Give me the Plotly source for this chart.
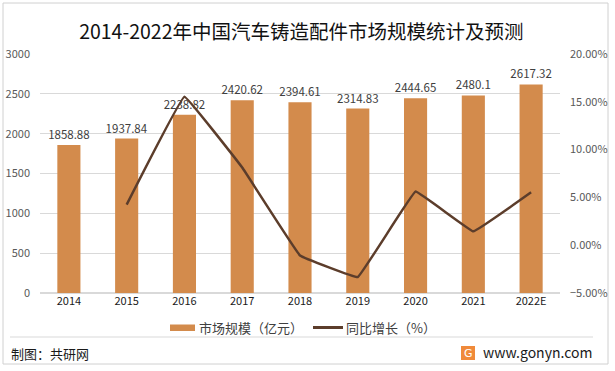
import plotly.graph_objects as go

years = ["2014", "2015", "2016", "2017", "2018", "2019", "2020", "2021", "2022E"]
market_size = [1858.88, 1937.84, 2238.82, 2420.62, 2394.61, 2314.83, 2444.65, 2480.1, 2617.32]
growth_years = ["2015", "2016", "2017", "2018", "2019", "2020", "2021", "2022E"]
growth = [0.0425, 0.1553, 0.0812, -0.0107, -0.0333, 0.0561, 0.0145, 0.0553]

bar_color = "#D38B4C"
line_color = "#5C3D2B"
cjk = "Noto Sans CJK SC"

fig = go.Figure()
fig.add_trace(go.Bar(
    x=years, y=market_size, name="市场规模（亿元）",
    marker=dict(color=bar_color, line=dict(width=0)),
    width=0.4,
    text=[f"{v:g}" for v in market_size], textposition="outside",
    constraintext="none",
    textfont=dict(size=11.5, color="#404040", family=cjk),
    cliponaxis=False, showlegend=False,
))
fig.add_trace(go.Scatter(
    x=growth_years, y=growth, name="同比增长（%）", yaxis="y2",
    mode="lines", line=dict(color=line_color, width=2.5, shape="spline", smoothing=0.15),
    showlegend=False,
))

X0, X1, Y0, Y1 = 40, 560, 54, 293
W, H = 615, 371
def px(x):
    return (x - X0) / (X1 - X0)
def py(y):
    return (Y1 - y) / (Y1 - Y0)

fig.update_layout(
    width=W, height=H,
    margin=dict(l=X0, r=W - X1, t=Y0, b=H - Y1, autoexpand=False),
    paper_bgcolor="white", plot_bgcolor="white",
    font=dict(family=cjk, color="#404040", size=11),
    title=dict(text="2014-2022年中国汽车铸造配件市场规模统计及预测",
               x=0.49, xanchor="center", y=1 - 32 / H, yanchor="middle",
               font=dict(size=19.5, color="#111111", family=cjk)),
    bargap=0.6,
    showlegend=False,
    xaxis=dict(type="category", showgrid=False, showline=False, ticks="",
               tickfont=dict(size=11, color="#1a1a1a", family=cjk),
               automargin=False),
    yaxis=dict(range=[0, 3000], dtick=500, showgrid=True, gridcolor="#D9D9D9",
               gridwidth=1, zeroline=True, zerolinecolor="#D9D9D9", showline=False,
               tickfont=dict(size=11, color="#595959", family=cjk), ticks="",
               ticklabelstandoff=9, automargin=False),
    yaxis2=dict(range=[-0.05, 0.20], dtick=0.05, tickformat=".2%", overlaying="y",
                side="right", showgrid=False, zeroline=False, showline=False,
                tickfont=dict(size=11, color="#595959", family=cjk), ticks="",
                ticklabelstandoff=9, automargin=False),
    shapes=[
        dict(type="rect", xref="paper", yref="paper", x0=px(3), x1=px(608), y0=py(3), y1=py(364),
             line=dict(color="#D0D0D0", width=1), fillcolor="rgba(0,0,0,0)", layer="below"),
        dict(type="line", xref="paper", yref="paper", x0=px(10), x1=px(593), y0=py(337), y1=py(337),
             line=dict(color="#D9D9D9", width=1)),
        # legend swatches
        dict(type="rect", xref="paper", yref="paper", x0=px(170), x1=px(195), y0=py(324.5), y1=py(331),
             line=dict(width=0), fillcolor=bar_color),
        dict(type="line", xref="paper", yref="paper", x0=px(313), x1=px(343), y0=py(327.5), y1=py(327.5),
             line=dict(color=line_color, width=3)),
        # logo
        dict(type="rect", xref="paper", yref="paper", x0=px(461), x1=px(475), y0=py(346), y1=py(360),
             line=dict(width=0), fillcolor="#F08A3A"),
    ],
    annotations=[
        dict(text="市场规模（亿元）", xref="paper", yref="paper", x=px(197), y=py(327.5),
             xanchor="left", yanchor="middle", showarrow=False,
             font=dict(size=13, color="#404040", family=cjk)),
        dict(text="同比增长（%）", xref="paper", yref="paper", x=px(344), y=py(327.5),
             xanchor="left", yanchor="middle", showarrow=False,
             font=dict(size=13, color="#404040", family=cjk)),
        dict(text="制图：共研网", xref="paper", yref="paper", x=px(9), y=py(353),
             xanchor="left", yanchor="middle", showarrow=False,
             font=dict(size=13, color="#1a1a1a", family=cjk)),
        dict(text="G", xref="paper", yref="paper", x=px(468), y=py(353),
             xanchor="center", yanchor="middle", showarrow=False,
             font=dict(size=11, color="white", family="DejaVu Sans")),
        dict(text="www.gonyn.com", xref="paper", yref="paper", x=px(594), y=py(352),
             xanchor="right", yanchor="middle", showarrow=False,
             font=dict(size=14, color="#1a1a1a", family=cjk)),
    ],
)

fig.write_html("out.html", config={"displayModeBar": False},
               post_script="document.body.style.margin='0';document.body.style.overflow='hidden';")
